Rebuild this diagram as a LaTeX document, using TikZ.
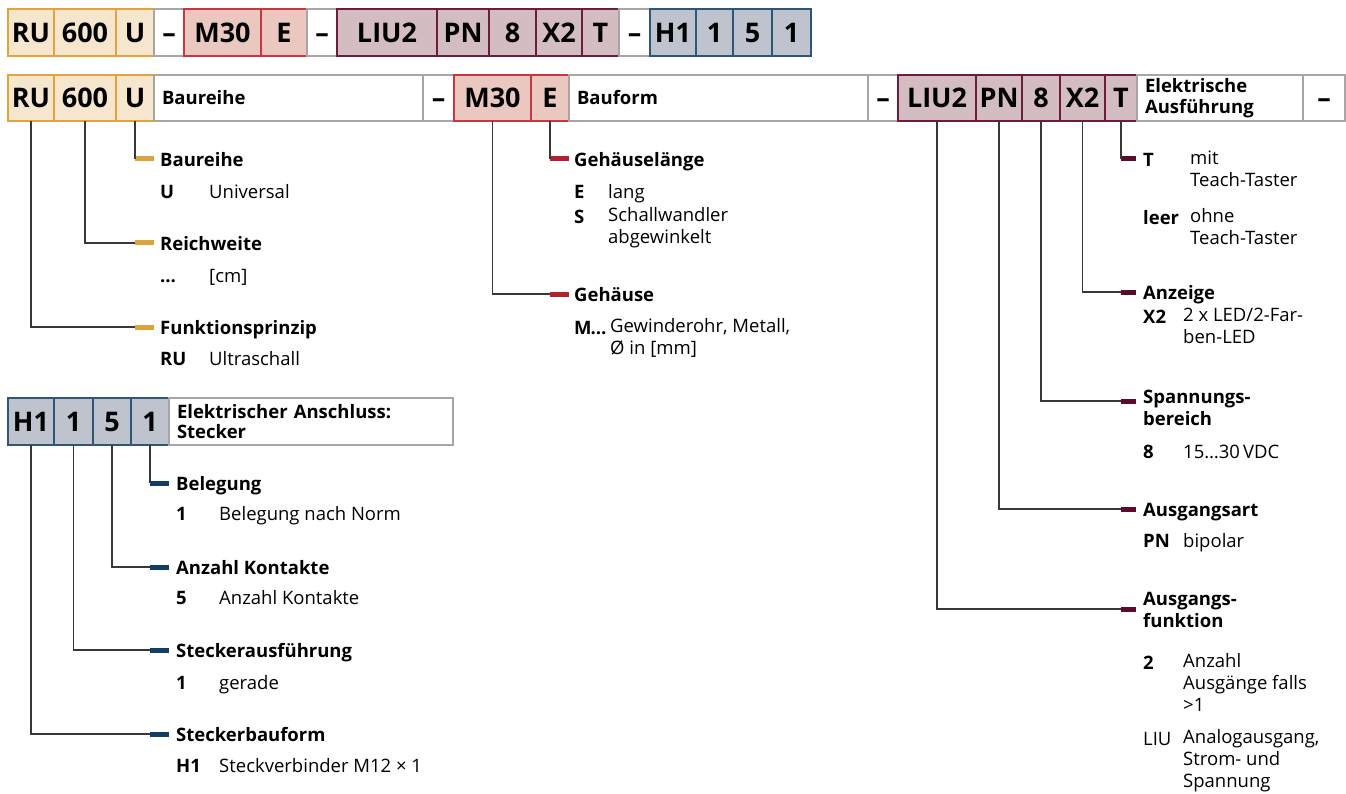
\documentclass[tikz,border=0pt]{standalone}
\usepackage{fontspec}
\setmainfont{Open Sans}
\definecolor{serline}{HTML}{E2A33A}
\definecolor{serfill}{HTML}{F5E6CD}
\definecolor{sermark}{HTML}{DCA23C}
\definecolor{formline}{HTML}{C93540}
\definecolor{formfill}{HTML}{EBC8BF}
\definecolor{formmark}{HTML}{B3222F}
\definecolor{elecline}{HTML}{6C1C3C}
\definecolor{elecfill}{HTML}{D3BDC0}
\definecolor{elecmark}{HTML}{5C0B2D}
\definecolor{plugline}{HTML}{2D5678}
\definecolor{plugfill}{HTML}{BEC3CE}
\definecolor{plugmark}{HTML}{123E66}
\definecolor{cellgrey}{HTML}{A6A6A6}
\definecolor{leadgrey}{HTML}{383838}
\usetikzlibrary{positioning}
\tikzset{
  codecell/.style = {rectangle, line width = 1.4pt, outer sep = 0pt, inner sep = 0pt, minimum height = 47pt, text height = 19.5pt, text depth = 0pt, font = \fontsize{27}{30}\selectfont\bfseries},
  serie/.style = {codecell, draw = serline, fill = serfill},
  form/.style = {codecell, draw = formline, fill = formfill},
  elec/.style = {codecell, draw = elecline, fill = elecfill},
  plug/.style = {codecell, draw = plugline, fill = plugfill},
  gapcell/.style = {codecell, draw = cellgrey, fill = white},
  titlecell/.style = {codecell, draw = cellgrey, fill = white, text height = {}, text depth = {}, align = left, inner xsep = 8pt, font = \fontsize{18.5}{21}\selectfont\bfseries},
  legbar/.style = {rectangle, inner sep = 0pt, outer sep = 0pt, minimum width = 19pt, minimum height = 5pt, anchor = west, fill = #1},
  legtext/.style = {anchor = north west, yshift = 15.4pt, inner sep = 0pt, align = left, execute at begin node = \strut},
  leghead/.style = {legtext, font = \fontsize{18.5}{22}\selectfont\bfseries},
  legcode/.style = {legtext, font = \fontsize{18.5}{22}\selectfont\bfseries},
  legdesc/.style = {legtext, font = \fontsize{18.5}{22}\selectfont},
  leadline/.style = {draw = leadgrey, line width = 1.2pt}
}
\begin{document}
\begin{tikzpicture}[x = 1pt, y = -1pt]
\useasboundingbox (0,0) rectangle (1346,794);
\node[serie, minimum width = 46pt, anchor = north west] (tRU) at (8,9) {RU};
\node[serie, minimum width = 62pt, right = 0pt of tRU] (t600) {600};
\node[serie, minimum width = 38pt, right = 0pt of t600] (tU) {U};
\node[gapcell, minimum width = 30pt, right = 0pt of tU] (tgap1) {–};
\node[form, minimum width = 77pt, right = 0pt of tgap1] (tM30) {M30};
\node[form, minimum width = 46pt, right = 0pt of tM30] (tE) {E};
\node[gapcell, minimum width = 30pt, right = 0pt of tE] (tgap2) {–};
\node[elec, minimum width = 100pt, right = 0pt of tgap2] (tLIU) {LIU2};
\node[elec, minimum width = 52pt, right = 0pt of tLIU] (tPN) {PN};
\node[elec, minimum width = 47pt, right = 0pt of tPN] (t8) {8};
\node[elec, minimum width = 46pt, right = 0pt of t8] (tX2) {X2};
\node[elec, minimum width = 37pt, right = 0pt of tX2] (tT) {T};
\node[gapcell, minimum width = 31pt, right = 0pt of tT] (tgap3) {–};
\node[plug, minimum width = 46pt, right = 0pt of tgap3] (tH1) {H1};
\node[plug, minimum width = 37pt, right = 0pt of tH1] (tA) {1};
\node[plug, minimum width = 39pt, right = 0pt of tA] (tB) {5};
\node[plug, minimum width = 39pt, right = 0pt of tB] (tC) {1};

\node[serie, minimum width = 46pt, minimum height = 46pt, anchor = north west] (sRU) at (8,75) {RU};
\node[serie, minimum width = 62pt, minimum height = 46pt, right = 0pt of sRU] (s600) {600};
\node[serie, minimum width = 38pt, minimum height = 46pt, right = 0pt of s600] (sU) {U};
\node[titlecell, minimum width = 269pt, text width = 253pt, minimum height = 46pt, right = 0pt of sU] (sSerie) {Baureihe};
\node[gapcell, minimum width = 31pt, minimum height = 46pt, right = 0pt of sSerie] (sgap1) {–};
\node[form, minimum width = 77pt, minimum height = 46pt, right = 0pt of sgap1] (sM30) {M30};
\node[form, minimum width = 38pt, minimum height = 46pt, right = 0pt of sM30] (sE) {E};
\node[titlecell, minimum width = 299pt, text width = 283pt, minimum height = 46pt, right = 0pt of sE] (sForm) {Bauform};
\node[gapcell, minimum width = 30pt, minimum height = 46pt, right = 0pt of sForm] (sgap2) {–};
\node[elec, minimum width = 78pt, minimum height = 46pt, right = 0pt of sgap2] (sLIU) {LIU2};
\node[elec, minimum width = 46pt, minimum height = 46pt, right = 0pt of sLIU] (sPN) {PN};
\node[elec, minimum width = 38pt, minimum height = 46pt, right = 0pt of sPN] (s8) {8};
\node[elec, minimum width = 45pt, minimum height = 46pt, right = 0pt of s8] (sX2) {X2};
\node[elec, minimum width = 32pt, minimum height = 46pt, right = 0pt of sX2] (sT) {T};
\node[titlecell, minimum width = 166pt, text width = 150pt, minimum height = 46pt, right = 0pt of sT] (sElec) {Elektrische\\Ausführung};
\node[gapcell, minimum width = 42pt, minimum height = 46pt, right = 0pt of sElec] (sgap3) {–};

\node[legbar = sermark] (mSerie) at (sU.south |- 0,159) {};
\node[legbar = sermark] (mRange) at (sU.south |- 0,243) {};
\node[legbar = sermark] (mPrinc) at (sU.south |- 0,327) {};
\node[leghead] (hSerie) at (160,166) {Baureihe};
\node[legcode] (cU) at (160,198) {U};
\node[legdesc] (dU) at (209,198) {Universal};
\node[leghead] (hRange) at (160,250) {Reichweite};
\node[legcode] (cDots) at (160,282) {…};
\node[legdesc] (dDots) at (209,282) {[cm]};
\node[leghead] (hPrinc) at (160,334) {Funktionsprinzip};
\node[legcode] (cRU) at (160,365) {RU};
\node[legdesc] (dRU) at (209,365) {Ultraschall};
\draw[leadline] (sU.south) |- (mSerie.west);
\draw[leadline] (s600.south) |- (mRange.west);
\draw[leadline] (sRU.south) |- (mPrinc.west);

\node[legbar = formmark] (mLength) at (sE.south |- 0,159) {};
\node[legbar = formmark] (mHousing) at (sE.south |- 0,294) {};
\node[leghead] (hLength) at (574,166) {Gehäuselänge};
\node[legcode] (cE) at (574,198) {E};
\node[legdesc] (dE) at (608,198) {lang};
\node[legcode] (cS) at (574,223) {S};
\node[legdesc] (dS) at (608,223) {Schallwandler\\abgewinkelt};
\node[leghead] (hHousing) at (574,301) {Gehäuse};
\node[legcode] (cM) at (574,334) {M\kern-1pt…};
\node[legdesc] (dM) at (610,334) {Gewinderohr, Metall,\\Ø in [mm]};
\draw[leadline] (sE.south) |- (mLength.west);
\draw[leadline] (sM30.south) |- (mHousing.west);

\node[legbar = elecmark, minimum width = 15pt] (mTeach) at (sT.south |- 0,159) {};
\node[legbar = elecmark, minimum width = 15pt] (mShow) at (sT.south |- 0,292) {};
\node[legbar = elecmark, minimum width = 15pt] (mVolt) at (sT.south |- 0,401) {};
\node[legbar = elecmark, minimum width = 15pt] (mOutKind) at (sT.south |- 0,509) {};
\node[legbar = elecmark, minimum width = 15pt] (mOutFunc) at (sT.south |- 0,609) {};
\node[legcode] (cT) at (1143,166) {T};
\node[legdesc] (dT) at (1190,166) {mit\\Teach-Taster};
\node[legcode] (cLeer) at (1143,224) {leer};
\node[legdesc] (dLeer) at (1190,224) {ohne\\Teach-Taster};
\node[leghead] (hShow) at (1143,299) {Anzeige};
\node[legcode] (cX2) at (1143,323) {X2};
\node[legdesc] (dX2) at (1183,323) {2 x LED/2-Far-\\ben-LED};
\node[leghead] (hVolt) at (1143,405) {Spannungs-\\bereich};
\node[legcode] (c8) at (1143,458) {8};
\node[legdesc] (d8) at (1183,458) {15…30\,VDC};
\node[leghead] (hOutKind) at (1143,516) {Ausgangsart};
\node[legcode] (cPN) at (1143,547) {PN};
\node[legdesc] (dPN) at (1183,547) {bipolar};
\node[leghead] (hOutFunc) at (1143,607) {Ausgangs-\\funktion};
\node[legcode] (c2) at (1143,669) {2};
\node[legdesc] (d2) at (1183,669) {Anzahl\\Ausgänge falls\\>1};
\node[legdesc] (cLIU) at (1143,745) {LIU};
\node[legdesc] (dLIU) at (1183,745) {Analogausgang,\\Strom- und\\Spannung};
\draw[leadline] (sT.south) |- (mTeach.west);
\draw[leadline] (sX2.south) |- (mShow.west);
\draw[leadline] (s8.south) |- (mVolt.west);
\draw[leadline] (sPN.south) |- (mOutKind.west);
\draw[leadline] (sLIU.south) |- (mOutFunc.west);

\node[plug, minimum width = 46pt, anchor = north west] (bH1) at (8,398) {H1};
\node[plug, minimum width = 39pt, right = 0pt of bH1] (bA) {1};
\node[plug, minimum width = 38pt, right = 0pt of bA] (bB) {5};
\node[plug, minimum width = 38pt, right = 0pt of bB] (bC) {1};
\node[titlecell, minimum width = 284pt, text width = 268pt, minimum height = 47pt, right = 0pt of bC, font = \fontsize{18.5}{20}\selectfont\bfseries] (bPlug) {Elektrischer Anschluss:\\Stecker};
\node[legbar = plugmark] (mPins) at (bC.south |- 0,483) {};
\node[legbar = plugmark] (mCount) at (bC.south |- 0,567) {};
\node[legbar = plugmark] (mMake) at (bC.south |- 0,650) {};
\node[legbar = plugmark] (mShape) at (bC.south |- 0,734) {};
\node[leghead] (hPins) at (176,490) {Belegung};
\node[legcode] (cPins) at (176,520) {1};
\node[legdesc] (dPins) at (219,520) {Belegung nach Norm};
\node[leghead] (hCount) at (176,574) {Anzahl Kontakte};
\node[legcode] (cCount) at (176,604) {5};
\node[legdesc] (dCount) at (219,604) {Anzahl Kontakte};
\node[leghead] (hMake) at (176,657) {Steckerausführung};
\node[legcode] (cMake) at (176,689) {1};
\node[legdesc] (dMake) at (219,689) {gerade};
\node[leghead] (hShape) at (176,741) {Steckerbauform};
\node[legcode] (cShape) at (176,772) {H1};
\node[legdesc] (dShape) at (219,772) {Steckverbinder M12 × 1};
\draw[leadline] (bC.south) |- (mPins.west);
\draw[leadline] (bB.south) |- (mCount.west);
\draw[leadline] (bA.south) |- (mMake.west);
\draw[leadline] (bH1.south) |- (mShape.west);
\end{tikzpicture}
\end{document}
